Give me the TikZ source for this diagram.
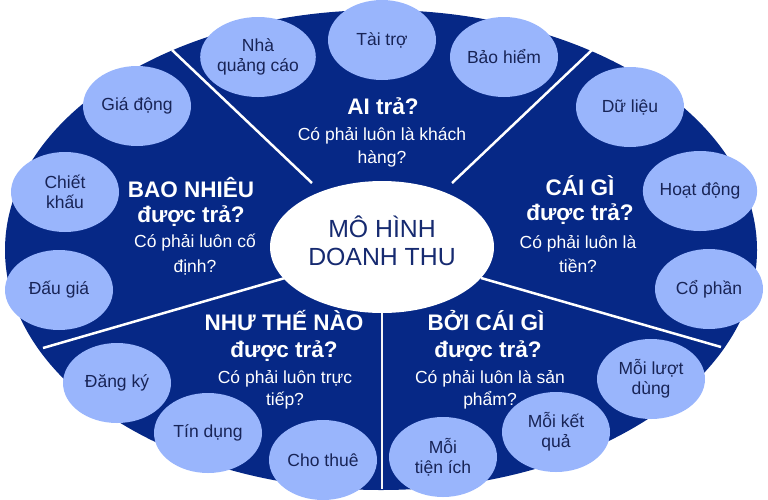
\documentclass[tikz,border=0pt]{standalone}
\usepackage{fontspec}
\setmainfont{Liberation Sans}
\usetikzlibrary{shapes.geometric}
\definecolor{rimblue}{RGB}{6,40,134}
\definecolor{bubblefill}{RGB}{153,181,252}
\definecolor{bubbletext}{RGB}{24,36,86}
\definecolor{hubtext}{RGB}{22,42,112}
\begin{document}
\begin{tikzpicture}[x=1pt,y=-1pt,
  bubble/.style={ellipse,fill=bubblefill,text=bubbletext,minimum width=108pt,minimum height=80pt,inner sep=0pt,align=center,font=\fontsize{17.5}{20}\selectfont},
  head/.style={text=white,anchor=base,align=center,font=\bfseries\fontsize{22.5}{26}\selectfont},
  ask/.style={text=white,anchor=base,align=center,font=\fontsize{17.5}{23}\selectfont},
  divider/.style={white,line width=2.5pt}]
\useasboundingbox (0,0) rectangle (768,499);
\fill[rimblue] (381,250) ellipse (376 and 240);
% dividers
\draw[divider] (172,50) -- (312,183);
\draw[divider] (592,50) -- (452,183);
\draw[divider] (43,348) -- (285,278);
\draw[divider] (721,347) -- (481,278);
\draw[white!92!gray,line width=1.5pt] (382,300) -- (382,489);
\node[ellipse,fill=white,minimum width=224pt,minimum height=132pt,inner sep=0pt] (hub) at (382,247) {};
\node[text=hubtext,anchor=base,font=\fontsize{24.8}{28}\selectfont] (hubtop) at (382,237) {MÔ HÌNH};
\node[text=hubtext,anchor=base,font=\fontsize{24.8}{28}\selectfont] (hubbot) at (382,265) {DOANH THU};
% who pays
\node[bubble] (advert) at (258,57) {Nhà\\quảng cáo};
\node[bubble] (sponsor) at (382,40) {Tài trợ};
\node[bubble] (insure) at (504,57) {Bảo hiểm};
\node[head] (who) at (383,114) {AI trả?};
\node[ask] (whoask) at (382,140) {Có phải luôn là khách};
\node[ask] (whoask2) at (382,163) {hàng?};
% how much
\node[bubble] (dynamic) at (137,106) {Giá động};
\node[bubble] (discount) at (65,192) {Chiết\\khấu};
\node[bubble] (auction) at (59,290) {Đấu giá};
\node[head] (much) at (191,197) {BAO NHIÊU};
\node[head] (much2) at (191,222) {được trả?};
\node[ask] (muchask) at (195,247) {Có phải luôn cố};
\node[ask] (muchask2) at (195,272) {định?};
% what
\node[bubble] (data) at (630,107) {Dữ liệu};
\node[bubble] (activity) at (700,191) {Hoạt động};
\node[bubble] (equity) at (709,289) {Cổ phần};
\node[head] (what) at (580,195) {CÁI GÌ};
\node[head] (what2) at (580,220) {được trả?};
\node[ask] (whatask) at (578,248) {Có phải luôn là};
\node[ask] (whatask2) at (578,272) {tiền?};
% how
\node[bubble] (subscribe) at (117,383) {Đăng ký};
\node[bubble] (credit) at (208,433) {Tín dụng};
\node[bubble] (lease) at (323,460) {Cho thuê};
\node[head] (how) at (284,330) {NHƯ THẾ NÀO};
\node[head] (how2) at (284,357) {được trả?};
\node[ask] (howask) at (285,383) {Có phải luôn trực};
\node[ask] (howask2) at (285,405) {tiếp?};
% by what
\node[bubble] (peruse) at (651,379) {Mỗi lượt\\dùng};
\node[bubble] (perresult) at (556,432) {Mỗi kết\\quả};
\node[bubble] (perutility) at (443,457) {Mỗi\\tiện ích};
\node[head] (bywhat) at (486,330) {BỞI CÁI GÌ};
\node[head] (bywhat2) at (488,357) {được trả?};
\node[ask] (bywhatask) at (490,383) {Có phải luôn là sản};
\node[ask] (bywhatask2) at (490,405) {phẩm?};
\end{tikzpicture}
\end{document}
